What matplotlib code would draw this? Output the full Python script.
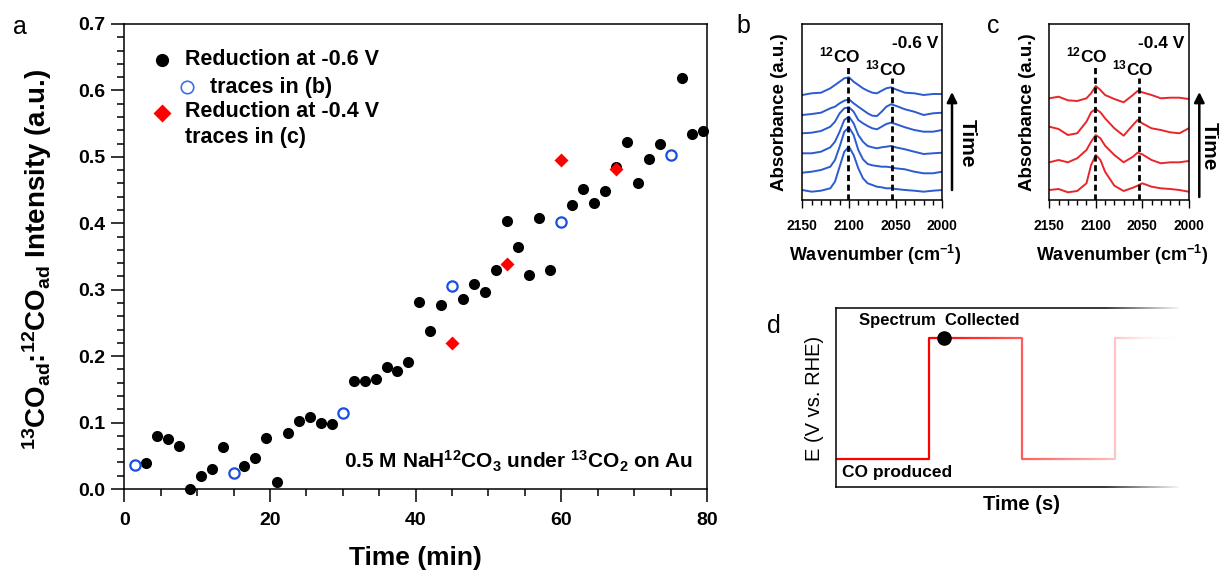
import matplotlib.pyplot as plt
import numpy as np
from matplotlib.ticker import FormatStrFormatter

plt.rcParams["font.family"] = ["Liberation Sans", "DejaVu Sans"]
plt.rcParams["font.weight"] = "bold"
plt.rcParams["axes.labelweight"] = "bold"
plt.rcParams["mathtext.fontset"] = "custom"
plt.rcParams["mathtext.rm"] = "Liberation Sans:bold"
plt.rcParams["mathtext.it"] = "Liberation Sans:bold"
plt.rcParams["mathtext.bf"] = "Liberation Sans:bold"
plt.rcParams["axes.linewidth"] = 1.1

W, H = 1219, 576

# panel a: 13CO/12CO ratio vs time
time_06 = [3.0, 4.5, 6.0, 7.5, 9.0, 10.5, 12.0, 13.5, 16.5, 18.0, 19.5, 21.0,
           22.5, 24.0, 25.5, 27.0, 28.5, 31.5, 33.0, 34.5, 36.0, 37.5, 39.0,
           40.5, 42.0, 43.5, 46.5, 48.0, 49.5, 51.0, 52.5, 54.0, 55.5, 57.0,
           58.5, 61.5, 63.0, 64.5, 66.0, 67.5, 69.0, 70.5, 72.0, 73.5, 76.5,
           78.0, 79.5]
ratio_06 = [0.039, 0.080, 0.075, 0.065, 0.000, 0.020, 0.030, 0.063, 0.035,
            0.047, 0.077, 0.011, 0.085, 0.102, 0.109, 0.099, 0.098, 0.162,
            0.162, 0.165, 0.184, 0.178, 0.191, 0.282, 0.238, 0.277, 0.286,
            0.309, 0.297, 0.329, 0.403, 0.364, 0.322, 0.408, 0.329, 0.428,
            0.452, 0.430, 0.449, 0.484, 0.522, 0.461, 0.497, 0.520, 0.618,
            0.535, 0.539]
time_traces_b = [1.5, 15.0, 30.0, 45.0, 60.0, 75.0]
ratio_traces_b = [0.036, 0.024, 0.114, 0.305, 0.402, 0.503]
time_04 = [45.0, 52.5, 60.0, 67.5]
ratio_04 = [0.220, 0.338, 0.496, 0.481]

# panel b: stacked IR spectra at -0.6 V (a.u.), bottom trace first
wavenumber_b = [2150, 2140, 2130, 2120, 2115, 2110, 2105, 2100, 2095, 2090,
                2085, 2080, 2075, 2070, 2065, 2060, 2055, 2050, 2040, 2030,
                2020, 2010, 2000]
spectra_b = [
    [10.0, 8.3, 9.3, 11.7, 18.3, 33.3, 48.3, 53.3, 45.0, 31.7, 21.7, 16.7,
     15.0, 13.3, 12.7, 11.7, 11.7, 11.0, 10.0, 9.3, 8.3, 9.3, 10.0],
    [27.3, 28.3, 30.0, 33.3, 40.0, 53.3, 68.3, 72.7, 65.0, 50.0, 40.7, 36.0,
     34.7, 34.0, 33.3, 33.3, 32.7, 31.7, 30.7, 28.3, 26.7, 26.7, 28.3],
    [46.7, 46.7, 48.3, 52.7, 58.3, 68.3, 80.0, 83.3, 76.7, 65.0, 58.3, 54.0,
     52.7, 51.7, 52.7, 53.3, 54.0, 52.7, 50.7, 48.3, 46.0, 46.7, 47.3],
    [66.7, 67.3, 69.0, 73.3, 78.3, 86.7, 91.7, 92.7, 88.3, 80.0, 76.7, 74.0,
     71.7, 70.7, 73.3, 76.0, 77.3, 76.0, 72.7, 70.0, 68.3, 68.3, 70.0],
    [85.0, 86.0, 87.3, 91.7, 93.3, 96.7, 99.3, 100.7, 96.7, 93.3, 90.0, 86.7,
     84.3, 84.0, 88.3, 93.3, 95.7, 94.3, 90.7, 88.3, 85.0, 86.7, 87.3],
    [105.0, 106.7, 107.3, 111.7, 115.0, 118.3, 121.7, 122.7, 118.3, 115.0,
     111.7, 109.3, 107.3, 106.7, 109.3, 111.7, 112.7, 110.7, 107.3, 106.7,
     105.0, 106.0, 106.0],
]

# panel c: stacked IR spectra at -0.4 V (a.u.), bottom trace first
wavenumber_c = [2150, 2140, 2130, 2120, 2110, 2105, 2100, 2095, 2090, 2080,
                2070, 2060, 2055, 2050, 2040, 2030, 2020, 2010, 2000]
spectra_c = [
    [10.0, 11.0, 7.7, 9.0, 16.7, 35.0, 45.0, 40.0, 28.3, 14.3, 9.0, 12.3,
     14.3, 16.7, 13.3, 11.7, 11.0, 10.0, 8.3],
    [37.7, 40.0, 37.7, 41.7, 50.0, 58.3, 65.0, 61.7, 54.3, 45.0, 37.7, 43.3,
     47.3, 45.7, 40.0, 36.7, 37.7, 37.7, 39.0],
    [73.3, 71.0, 65.0, 66.7, 78.3, 87.7, 91.0, 87.7, 81.7, 71.7, 64.3, 75.0,
     80.0, 76.7, 71.7, 70.0, 67.7, 66.7, 71.7],
    [101.7, 103.3, 99.7, 99.0, 101.7, 106.7, 114.0, 110.0, 105.0, 101.0, 97.7,
     105.0, 109.0, 107.7, 105.0, 101.7, 102.3, 102.3, 101.0],
]
peak_12co = 2101
peak_13co = 2054

# panel d: potential step scheme
d_time = [0.0, 1.0, 2.0, 3.0, 3.7]
d_potential = [0.156, 0.832, 0.156, 0.832, 0.832]
collect_time = 1.165
collect_potential = 0.832

BLUE = "#2b5bd0"
RED_LINE = "#e8262a"


def px_axes(fig, left, top, right, bottom):
    return fig.add_axes([left / W, 1 - bottom / H, (right - left) / W,
                         (bottom - top) / H])


def fig_text(fig, x, y, s, **kw):
    return fig.text(x / W, 1 - y / H, s, **kw)


def draw_spectra(fig, box, wavenumber, traces, color, voltage, arrow_x,
                 arrow_y0):
    ax = px_axes(fig, *box)
    for trace in traces:
        ax.plot(wavenumber, trace, color=color, lw=1.4)
    ax.set_xlim(2150, 2000)
    ax.set_ylim(0, 175.7)
    ax.set_yticks([])
    ax.set_xticks([2150, 2100, 2050, 2000])
    ax.set_xticks(np.arange(2000, 2151, 10), minor=True)
    ax.tick_params(axis="x", which="both", direction="out", width=1.0,
                   labelsize=10, pad=7.5)
    ax.tick_params(axis="x", which="major", length=6)
    ax.tick_params(axis="x", which="minor", length=3.5)
    dash = (0, (2.2, 1.3))
    ax.plot([peak_12co, peak_12co], [0, 134], color="black", lw=2.0, ls=dash)
    ax.plot([peak_13co, peak_13co], [0, 122], color="black", lw=2.0, ls=dash)
    ax.text(2109.5, 137.5, r"$^{12}$CO", ha="center", va="baseline",
            fontsize=12.5)
    ax.text(2060.5, 124.7, r"$^{13}$CO", ha="center", va="baseline",
            fontsize=12.5)
    ax.text(2004.5, 152, voltage, ha="right", va="baseline", fontsize=12.5)
    ax.set_xlabel(r"Wavenumber (cm$^{-1}$)", fontsize=13, fontweight="bold")
    ax.xaxis.set_label_coords(0.523, -0.245)
    ax.annotate("", xy=(arrow_x, H - 92), xytext=(arrow_x, H - arrow_y0),
                xycoords="figure pixels", textcoords="figure pixels",
                arrowprops=dict(arrowstyle="-|>", color="black", lw=1.8,
                                mutation_scale=15, shrinkA=0, shrinkB=0),
                annotation_clip=False)
    return ax


def main():
    fig = plt.figure(figsize=(W / 100, H / 100), dpi=100)

    # ---- panel a
    ax_a = px_axes(fig, 124.3, 24, 707, 489)
    ax_a.plot(time_06, ratio_06, "o", color="black", ms=8, mec="none",
              clip_on=False, zorder=3)
    ax_a.plot(time_traces_b, ratio_traces_b, "o", mfc="none", mec="#1a4fe0",
              mew=1.6, ms=7.4, clip_on=False, zorder=3)
    ax_a.plot(time_04, ratio_04, "D", color="red", mec="none", ms=7.4,
              clip_on=False, zorder=4)
    ax_a.set_xlim(0, 80)
    ax_a.set_ylim(0, 0.7)
    ax_a.set_xticks(range(0, 81, 20))
    ax_a.set_xticks(range(0, 81, 5), minor=True)
    ax_a.set_yticks(np.arange(0, 0.71, 0.1))
    ax_a.set_yticks(np.arange(0, 0.71, 0.02), minor=True)
    ax_a.yaxis.set_major_formatter(FormatStrFormatter("%.1f"))
    ax_a.tick_params(which="both", direction="out", width=1.1, labelsize=14,
                     top=False, right=False)
    ax_a.tick_params(which="major", length=9.5)
    ax_a.tick_params(which="minor", length=5)
    ax_a.tick_params(axis="x", pad=7.4)
    ax_a.tick_params(axis="y", pad=4)
    ax_a.set_xlabel("Time (min)", fontsize=19, fontweight="bold")
    ax_a.xaxis.set_label_coords(0.5, -0.1226)
    fig_text(fig, 37, 259,
             r"$^{13}$CO$_{ad}$:$^{12}$CO$_{ad}$ Intensity (a.u.)",
             rotation=90, ha="center", va="center", fontsize=20)

    # legend keys
    tr = ax_a.transAxes
    ax_a.plot([0.0647], [0.9226], "o", color="black", ms=9.5, mec="none",
              transform=tr, clip_on=False)
    ax_a.plot([0.1076], [0.8645], "o", mfc="none", mec="#3f6fe0", mew=1.2,
              ms=9, transform=tr, clip_on=False)
    ax_a.plot([0.0647], [0.8086], "D", color="red", mec="none", ms=9,
              transform=tr, clip_on=False)
    ax_a.text(0.1042, 0.9226, "Reduction at -0.6 V", transform=tr,
              ha="left", va="center", fontsize=15.5)
    ax_a.text(0.147, 0.8645, "traces in (b)", transform=tr,
              ha="left", va="center", fontsize=15.5)
    ax_a.text(0.1042, 0.811, "Reduction at -0.4 V", transform=tr,
              ha="left", va="center", fontsize=15.5)
    ax_a.text(0.1042, 0.755, "traces in (c)", transform=tr,
              ha="left", va="center", fontsize=15.5)
    ax_a.text(0.976, 0.045,
              r"0.5 M NaH$^{12}$CO$_3$ under $^{13}$CO$_2$ on Au",
              transform=tr, ha="right", va="baseline", fontsize=15)

    # ---- panels b, c
    draw_spectra(fig, (802.3, 24.3, 942.3, 200), wavenumber_b, spectra_b,
                 BLUE, "-0.6 V", 952, 190)
    draw_spectra(fig, (1049.3, 24.3, 1188.7, 200), wavenumber_c, spectra_c,
                 RED_LINE, "-0.4 V", 1199.3, 197)
    fig_text(fig, 780, 112.5, "Absorbance (a.u.)", rotation=90, ha="center",
             va="center", fontsize=13.5)
    fig_text(fig, 1027, 112, "Absorbance (a.u.)", rotation=90, ha="center",
             va="center", fontsize=13.5)
    fig_text(fig, 967, 143, "Time", rotation=-90, ha="center", va="center",
             fontsize=15)
    fig_text(fig, 1209, 146, "Time", rotation=-90, ha="center",
             va="center", fontsize=15)

    # ---- panel d
    ax_d = px_axes(fig, 835.7, 308.3, 1178, 487.3)
    ax_d.plot(d_time, d_potential, drawstyle="steps-post", color="red",
              lw=1.6, zorder=2)
    ax_d.plot([collect_time], [collect_potential], "o", color="black", ms=9.5,
              zorder=5)
    ax_d.set_xticks([])
    ax_d.set_yticks([])
    ax_d.spines["right"].set_visible(False)
    ramp = np.ones((1, 256, 4))
    ramp[..., 3] = np.linspace(0, 1, 256)
    ax_d.imshow(ramp, extent=(1.0, 3.68, 0, 1), aspect="auto", zorder=2.2,
                interpolation="bilinear")
    ax_d.set_xlim(0, 3.68)
    ax_d.set_ylim(0, 1)
    ax_d.text(0.25, 0.93, "Spectrum  Collected", ha="left", va="center",
              fontsize=12, zorder=4)
    ax_d.text(0.065, 0.08, "CO produced", ha="left", va="center",
              fontsize=12.5, zorder=4)
    fig_text(fig, 1021.7, 505, "Time (s)", ha="center", va="center",
             fontsize=14.5)
    fig_text(fig, 815, 398, "E (V vs. RHE)", rotation=90, ha="center",
             va="center", fontsize=14.5, fontweight="normal")

    fade = px_axes(fig, 1105, 300, 1182, 495)
    fade.imshow(ramp, extent=(0, 1, 0, 1), aspect="auto",
                interpolation="bilinear")
    fade.axis("off")
    fade.set_zorder(10)

    # panel letters
    for x, y, s in [(12.7, 34.3, "a"), (736.7, 33.3, "b"),
                    (986.7, 33.3, "c"), (766.7, 332.7, "d")]:
        fig_text(fig, x, y, s, ha="left", va="baseline", fontsize=18,
                 fontweight="normal")

    fig.savefig("out.png", dpi=100)


if __name__ == "__main__":
    main()
